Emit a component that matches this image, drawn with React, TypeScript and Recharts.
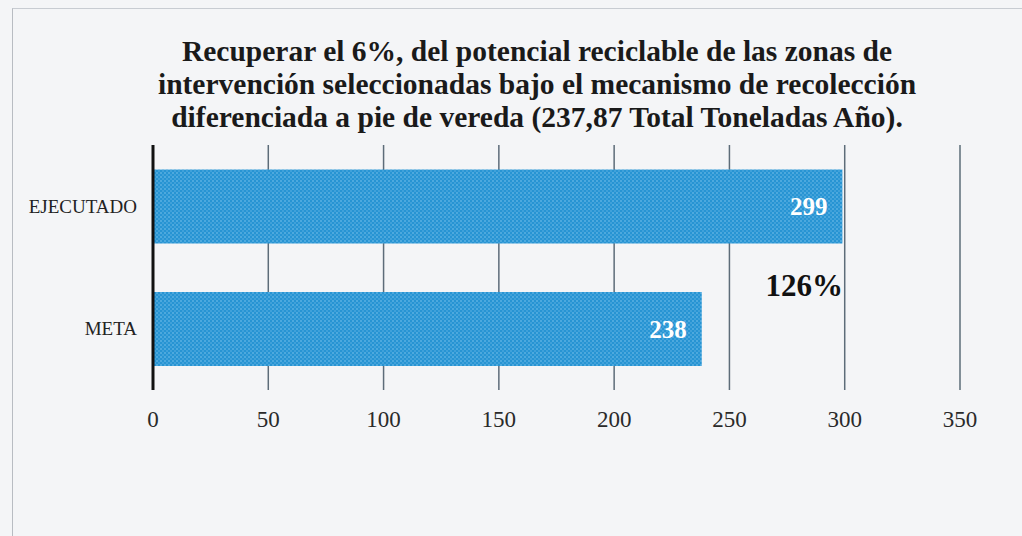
import React from 'react';
import { BarChart, Bar, XAxis, YAxis, CartesianGrid, LabelList } from 'recharts';

const categories = ['EJECUTADO', 'META'];
const toneladas = [299, 238];
const xTicks = [0, 50, 100, 150, 200, 250, 300, 350];
const titleLines = [
  'Recuperar el 6%, del potencial reciclable de las zonas de',
  'intervención seleccionadas bajo el mecanismo de recolección',
  'diferenciada a pie de vereda (237,87 Total Toneladas Año).',
];
const cumplimiento = '126%';

const serif = '"Liberation Serif", "DejaVu Serif", serif';

const App: React.FC = () => {
  const data = categories.map((name, i) => ({ name, value: toneladas[i] }));

  return (
    <div
      style={{
        position: 'absolute',
        left: 0,
        top: 0,
        width: 1022,
        height: 536,
        background: '#f4f5f7',
        fontFamily: serif,
        overflow: 'hidden',
      }}
    >
      <div
        style={{
          position: 'absolute',
          left: 12,
          top: 8,
          width: 1010,
          height: 528,
          borderLeft: '1px solid #b8bcc2',
          borderTop: '1px solid #c8ccd2',
        }}
      />
      <div
        style={{
          position: 'absolute',
          left: 0,
          top: 35,
          width: 1074,
          textAlign: 'center',
          fontWeight: 'bold',
          fontSize: 29.5,
          lineHeight: '33px',
          color: '#1a1a1a',
        }}
      >
        {titleLines.map((t) => (
          <div key={t}>{t}</div>
        ))}
      </div>
      <div style={{ position: 'absolute', left: 0, top: 0 }}>
        <BarChart
          width={1022}
          height={536}
          data={data}
          layout="vertical"
          margin={{ top: 145, right: 62, left: 13, bottom: 106 }}
          barCategoryGap="20%"
        >
          <defs>
            <pattern id="dots" width="4" height="4" patternUnits="userSpaceOnUse">
              <rect width="4" height="4" fill="#2794d3" />
              <circle cx="1" cy="1" r="0.8" fill="#7cc4ec" />
              <circle cx="3" cy="3" r="0.8" fill="#5fb3e4" />
            </pattern>
          </defs>
          <CartesianGrid horizontal={false} stroke="#5d6c79" strokeWidth={1.5} />
          <XAxis
            type="number"
            domain={[0, 350]}
            ticks={xTicks}
            axisLine={false}
            tickLine={false}
            tickMargin={15}
            height={40}
            tick={{ fill: '#2a2a2a', fontSize: 23, fontFamily: serif }}
          />
          <YAxis
            type="category"
            dataKey="name"
            width={140}
            axisLine={{ stroke: '#111', strokeWidth: 3 }}
            tickLine={false}
            tickMargin={10}
            tick={{ fill: '#222', fontSize: 19, fontFamily: serif }}
          />
          <Bar dataKey="value" fill="url(#dots)" isAnimationActive={false}>
            <LabelList
              dataKey="value"
              position="insideRight"
              offset={15}
              fill="#ffffff"
              fontSize={25}
              fontWeight="bold"
              fontFamily={serif}
            />
          </Bar>
        </BarChart>
      </div>
      <div
        style={{
          position: 'absolute',
          left: 703,
          top: 268,
          width: 140,
          textAlign: 'right',
          fontWeight: 'bold',
          fontSize: 31,
          color: '#111',
        }}
      >
        {cumplimiento}
      </div>
    </div>
  );
};

export default App;
